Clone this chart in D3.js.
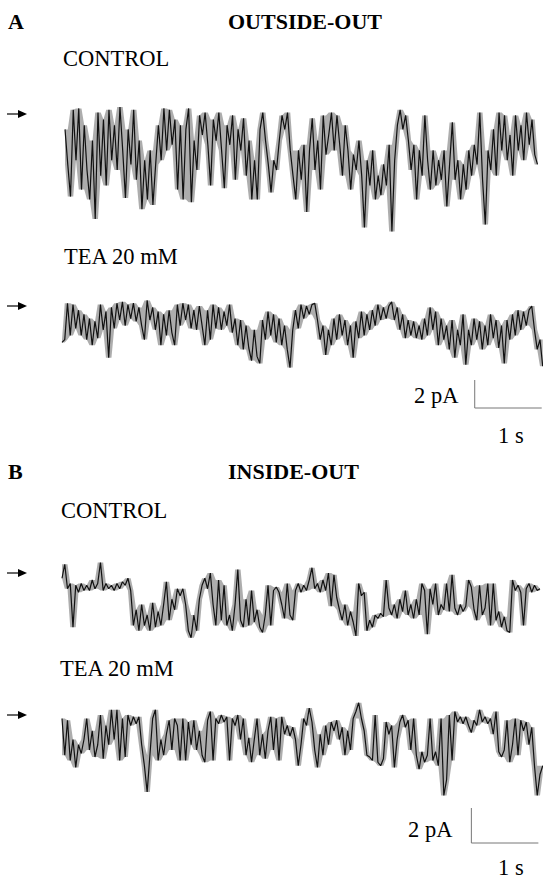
<!DOCTYPE html>
<html>
<head>
<meta charset="utf-8">
<script src="https://cdn.jsdelivr.net/npm/d3@7/dist/d3.min.js"></script>
<style>
  body { margin: 0; background: #fff; }
  text { font-family: "Liberation Serif", "Times New Roman", serif; fill: #000; }
</style>
</head>
<body>
<svg width="543" height="879"></svg>
<script>
// single channel records, current in pA relative to the arrow level, one value per sample
var sampleInterval = 0.041; // s

var outsideControl = [
  -1.1, -3.6, -5.9, 0.3, -3.3, 0.4, -5.4, -0.8, -4.0, -6.1,
  -1.9, -7.5, 0.1, -4.4, -0.4, -5.1, 0.3, -3.3, -0.8, -4.0,
  0.5, -2.6, -6.0, -1.1, -3.6, 0.3, -4.7, -1.9, -6.8, -3.3,
  -6.1, -2.6, -6.5, -3.6, -0.8, -3.3, 0.4, -2.6, 0.3, -2.2,
  -0.4, -5.4, -0.8, -6.1, -1.1, 0.4, -6.3, -1.9, -4.0, -0.1,
  -1.5, 0.1, -2.2, -5.1, -0.4, -1.9, 0.1, -2.6, -5.3, -0.8,
  -2.2, -0.1, -4.7, -1.1, -2.6, -0.3, -4.4, -1.9, -6.1, -3.3,
  -6.1, -1.1, 0.1, -1.9, -3.6, -5.6, -3.3, -4.0, -1.9, -0.1,
  -1.1, 0.1, -2.6, -4.4, -6.1, -2.6, -4.7, -2.2, -7.0, -2.6,
  -0.3, -4.0, -1.9, -5.4, -0.1, -2.9, -1.5, 0.1, -2.6, -0.1,
  -2.2, -4.4, -0.8, -2.6, -5.4, -2.9, -4.0, -1.9, -4.4, -8.1,
  -3.3, -5.1, -2.6, -6.1, -4.4, -5.8, -3.6, -5.1, -2.2, -8.4,
  -3.3, -0.8, 0.3, -1.1, -0.1, -1.9, -4.0, -2.2, -6.1, -2.6,
  -4.4, -0.1, -3.3, -5.4, -2.6, -5.1, -3.3, -4.7, -2.6, -6.6,
  -3.6, -0.6, -4.7, -3.3, -6.1, -3.6, -5.4, -2.6, -4.4, -2.2,
  -3.6, 0.1, -4.7, -7.9, -2.6, -4.0, -1.1, -4.4, 0.1, -2.6,
  -0.1, -3.3, -1.5, -4.4, -0.1, -2.6, -0.8, -3.3, 0.1, -2.2,
  -0.4, -2.9, -3.6
];

var outsideTea = [
  -2.6, -2.4, 0.2, -2.1, 0.1, -1.6, -0.3, -2.1, -0.6, -2.4,
  -0.9, -2.8, -1.1, -2.3, 0.1, -1.7, -0.4, -3.7, -0.1, -1.6,
  0.2, -1.0, 0.3, -1.4, 0.1, -0.9, 0.2, -1.1, -0.1, -1.4,
  -2.4, 0.4, -1.0, -0.1, -1.7, -0.4, -2.8, -0.6, -2.1, -0.3,
  -1.9, -2.8, 0.1, -1.4, 0.2, -1.0, 0.1, -1.6, -0.3, -1.7,
  0.0, -1.4, -2.8, -0.3, -2.4, 0.1, -1.6, -0.1, -1.7, -0.4,
  -1.4, 0.1, -1.9, -0.9, -2.8, -1.0, -3.1, -1.4, -3.0, -3.9,
  -1.7, -3.6, -4.1, -1.0, -2.4, -0.4, -2.1, -0.6, -2.6, -0.9,
  -2.8, -1.4, -3.1, -4.4, -1.7, -0.3, -1.6, 0.1, -0.9, 0.0,
  -0.6, 0.1, 0.2, -1.0, -2.4, -1.4, -3.5, -1.7, -2.8, -0.9,
  -2.4, -0.6, -2.1, -1.0, -2.8, -1.4, -3.7, -1.1, -2.3, -0.4,
  -2.1, -0.6, -1.7, -0.3, -1.4, 0.1, -1.0, -0.1, -0.9, 0.0,
  0.3, -1.0, -0.1, -1.7, -0.6, -2.3, -1.0, -2.1, -1.1, -2.3,
  -1.4, -2.4, -0.9, -2.1, -0.1, -1.7, -0.4, -2.8, -0.9, -2.4,
  -1.4, -3.1, -1.0, -3.7, -1.7, -2.8, -0.6, -4.2, -1.7, -2.8,
  -0.9, -2.4, -1.1, -3.1, -1.4, -2.8, -0.6, -2.3, -1.0, -3.0,
  -1.4, -4.1, -1.0, -2.4, -0.6, -2.1, -0.3, -1.7, -0.4, -1.4,
  -0.3, 0.0, -1.7, -3.1, -2.4, -4.3
];

var insideControl = [
  -0.3, 0.5, -0.9, -0.6, -3.1, -0.7, -1.1, -0.6, -1.0, -0.7,
  -1.0, -0.4, -0.9, -0.6, 0.6, -1.0, -0.6, -0.9, -0.7, -1.0,
  -0.6, -0.9, -0.5, -0.7, -0.3, -1.0, -3.0, -2.1, -3.3, -1.8,
  -3.0, -2.4, -3.3, -1.7, -3.1, -2.2, -3.0, -1.8, -0.5, -2.7,
  -1.5, -2.1, -0.9, -1.3, -0.9, -1.8, -3.3, -3.7, -2.4, -3.3,
  -1.5, -0.7, -0.3, -0.9, 0.0, -1.8, -3.0, -0.4, -2.7, -0.7,
  -3.0, -2.4, -3.3, -1.8, 0.2, -2.7, -3.1, -1.5, -3.0, -1.0,
  -2.8, -2.1, -3.1, -3.4, -2.4, -0.7, -3.0, -1.0, -0.8, -1.1,
  -1.8, -2.6, -0.6, -2.4, -2.7, -1.0, -0.6, -1.1, -0.7, -1.0,
  -0.4, 0.3, -0.9, -0.6, -1.1, -0.4, -1.0, 0.0, -1.9, -0.1,
  -1.4, -2.1, -2.7, -1.8, -3.0, -2.2, -2.8, -3.6, -0.6, -1.3,
  -1.1, -3.3, -2.7, -3.1, -2.4, -2.6, -2.3, -2.5, -0.4, -2.0,
  -2.4, -1.8, -2.6, -1.5, -2.2, -1.0, -2.4, -1.8, -2.6, -1.5,
  -2.4, -0.6, -1.0, -3.5, -0.9, -1.8, -0.6, -2.4, -1.8, -2.1,
  -0.6, -2.2, -0.1, -2.0, -2.4, -1.8, -2.2, -1.9, -0.4, -0.8,
  -2.1, -2.7, -0.7, -2.4, -2.0, -0.6, -3.0, -0.6, -2.7, -2.2,
  -3.1, -2.5, -3.3, -3.4, -0.4, -1.0, -0.7, -1.1, -3.0, -0.9,
  -0.6, -1.1, -0.7, -1.0, -0.9
];

var insideTea = [
  -0.2, -2.3, -0.3, -2.6, -1.4, -3.0, -1.7, -2.2, -1.4, -0.2,
  -2.0, -0.9, -2.4, -1.7, 0.0, -2.5, -0.6, -1.7, 0.3, -1.4,
  0.3, -2.6, -0.2, -2.4, 0.0, -0.6, -0.1, -0.5, -0.1, -1.7,
  -2.9, -4.4, -2.3, -0.2, 0.3, -2.6, -1.4, -2.3, -1.1, -0.3,
  -2.0, -0.2, -0.6, -2.6, -0.2, -2.6, -0.4, -1.7, -0.3, -2.0,
  -0.9, -2.3, -2.7, -0.3, 0.2, -2.6, -0.2, -0.5, 0.0, -0.4,
  -0.1, -2.6, -0.2, -0.6, 0.0, -1.4, -0.2, -2.3, -1.3, -2.7,
  -1.4, -0.2, -2.3, -1.1, -2.5, -0.9, -0.1, -2.0, -0.2, -2.6,
  -0.1, -1.1, -0.6, -1.2, -0.7, -1.4, -2.9, -1.7, -0.2, -0.6,
  0.4, -0.4, -2.0, -3.0, -1.1, -2.3, -0.6, -1.7, -0.4, -0.9,
  -0.3, -1.4, -0.7, -2.3, -0.9, -2.0, -0.2, 0.2, 0.7, -0.2,
  -0.9, -2.3, -2.4, -2.6, 0.0, -2.7, -2.9, -2.5, -0.4, -1.1,
  -0.6, -3.0, -1.4, -0.4, 0.0, -0.7, -0.3, -2.0, -0.2, -2.3,
  -3.1, -2.1, -2.7, -2.3, -0.2, -2.6, -2.1, -2.9, -0.2, -4.6,
  -3.7, 0.0, -2.6, 0.2, -0.4, -0.1, -0.5, -0.1, -0.6, -1.0,
  -0.3, -0.6, 0.3, -0.4, -0.1, -0.5, -0.2, -1.1, 0.2, -2.1,
  -2.4, -2.0, -0.3, -2.7, -1.7, -0.2, -2.3, -0.3, -0.9, -0.4,
  -1.7, -0.7, -2.9, -4.6, -3.4, -2.9
];

var panelLabels = ["A", "B"];
var panelTitles = ["OUTSIDE-OUT", "INSIDE-OUT"];
var conditionLabels = ["CONTROL", "TEA 20 mM"];
var scaleBarLabels = ["2 pA", "1 s"];

var svg = d3.select("svg");

// time axis shared by all records (1 s ~ 67 px)
var x = d3.scaleLinear().domain([0, 7.2]).range([62, 544.4]);

var panels = [
  { label: panelLabels[0], title: panelTitles[0], top: 28,
    rows: [
      { name: conditionLabels[0], values: outsideControl, t0: 0.045, zero: 114, labelX: 63, labelY: 66 },
      { name: conditionLabels[1], values: outsideTea, t0: 0, zero: 306, labelX: 64, labelY: 264 }
    ],
    pxPer2pA: 28, barTime: 6.16, barBottom: 408, pALabel: [414, 403], sLabel: [498, 443] },
  { label: panelLabels[1], title: panelTitles[1], top: 478,
    rows: [
      { name: conditionLabels[0], values: insideControl, t0: 0, zero: 573, labelX: 61, labelY: 518 },
      { name: conditionLabels[1], values: insideTea, t0: 0, zero: 715, labelX: 60, labelY: 676 }
    ],
    pxPer2pA: 35, barTime: 6.11, barBottom: 843, pALabel: [408, 837], sLabel: [498, 875] }
];

panels.forEach(function(p) {
  svg.append("text").attr("x", 8).attr("y", p.top + 1)
    .attr("font-size", 22).attr("font-weight", "bold").text(p.label);
  svg.append("text").attr("x", 228).attr("y", p.top + 1)
    .attr("font-size", 22).attr("font-weight", "bold").text(p.title);

  p.rows.forEach(function(r) {
    var y = d3.scaleLinear().domain([0, -2]).range([r.zero, r.zero + p.pxPer2pA]);
    var tx = function(i) { return x(r.t0 + i * sampleInterval); };

    svg.append("text").attr("x", r.labelX).attr("y", r.labelY)
      .attr("font-size", 22.5).text(r.name);

    // arrow marking the reference level
    svg.append("line").attr("x1", 7).attr("x2", 20).attr("y1", r.zero).attr("y2", r.zero)
      .attr("stroke", "#000").attr("stroke-width", 1.2);
    svg.append("path")
      .attr("d", "M18," + (r.zero - 4) + "L27," + r.zero + "L18," + (r.zero + 4) + "Z")
      .attr("fill", "#000");

    // grey band spanned by neighbouring samples (the hatched look of the record)
    var n = r.values.length;
    var band = d3.area()
      .x(function(d, i) { return tx(i); })
      .y0(function(d, i) { return y(d3.max(r.values.slice(Math.max(0, i - 1), Math.min(n, i + 2)))); })
      .y1(function(d, i) { return y(d3.min(r.values.slice(Math.max(0, i - 1), Math.min(n, i + 2)))); });
    svg.append("path").datum(r.values)
      .attr("d", band)
      .attr("fill", "#777")
      .attr("opacity", 0.6);

    var line = d3.line()
      .x(function(d, i) { return tx(i); })
      .y(function(d) { return y(d); });

    svg.append("path").datum(r.values)
      .attr("d", line)
      .attr("fill", "none")
      .attr("stroke", "#111")
      .attr("stroke-width", 1.2)
      .attr("stroke-linejoin", "bevel");
  });

  // scale bars
  var bx0 = x(p.barTime), bx1 = x(p.barTime + 1);
  var yb = d3.scaleLinear().domain([0, 2]).range([p.barBottom, p.barBottom - p.pxPer2pA]);
  svg.append("line").attr("x1", bx0).attr("x2", bx0).attr("y1", yb(0)).attr("y2", yb(2))
    .attr("stroke", "#777").attr("stroke-width", 1);
  svg.append("line").attr("x1", bx0).attr("x2", bx1).attr("y1", yb(0)).attr("y2", yb(0))
    .attr("stroke", "#777").attr("stroke-width", 1);
  svg.append("text").attr("x", p.pALabel[0]).attr("y", p.pALabel[1])
    .attr("font-size", 22.5).text(scaleBarLabels[0]);
  svg.append("text").attr("x", p.sLabel[0]).attr("y", p.sLabel[1])
    .attr("font-size", 22.5).text(scaleBarLabels[1]);
});
</script>
</body>
</html>
